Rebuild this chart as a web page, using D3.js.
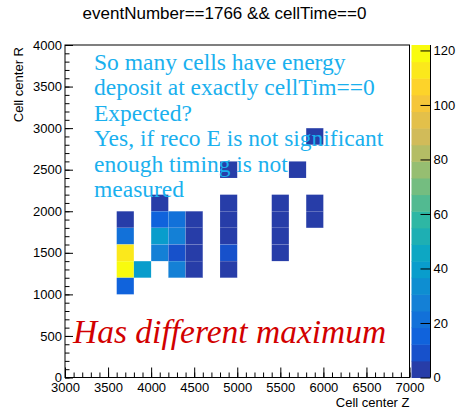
<!DOCTYPE html>
<html lang="en">
<head>
<meta charset="UTF-8">
<title>eventNumber==1766 && cellTime==0</title>
<style>
  body { margin: 0; padding: 0; background: #fff; }
  svg text { font-family: "Liberation Sans", Arial, Helvetica, sans-serif; }
  .axis text { font-size: 13px; fill: #000; }
  .axis line { stroke: #000; stroke-width: 1; }
  .axis path { display: none; }
  .note { font-family: "Liberation Serif", "Times New Roman", serif !important; }
</style>
</head>
<body>
<svg id="chart" width="459" height="412"></svg>

<script src="https://d3js.org/d3.v7.min.js"></script>
<script>
// cell centers (Z, R) and deposited energy, one entry per filled bin
var cellZ = [3700, 3700, 3700, 3700, 3700,
             3900,
             4100, 4100, 4100, 4100,
             4300, 4300, 4300, 4300,
             4500, 4500, 4500, 4500,
             4900, 4900, 4900, 4900, 4900, 4900,
             5500, 5500, 5500, 5500,
             5700,
             5900, 5900, 5900];
var cellR = [1900, 1700, 1500, 1300, 1100,
             1300,
             2100, 1900, 1700, 1500,
             1900, 1700, 1500, 1300,
             1900, 1700, 1500, 1300,
             2500, 2100, 1900, 1700, 1500, 1300,
             2100, 1900, 1700, 1500,
             2500,
             2900, 2100, 1900];
var cellE = [3, 22, 113, 122, 15,
             40,
             3, 15, 40, 30,
             22, 25, 10, 27,
             3, 2, 3, 2,
             3, 2, 3, 3, 9, 3,
             2, 3, 2, 3,
             2,
             3, 3, 2];

var xTicks = [3000, 3500, 4000, 4500, 5000, 5500, 6000, 6500, 7000];
var yTicks = [0, 500, 1000, 1500, 2000, 2500, 3000, 3500, 4000];
var zTicks = [0, 20, 40, 60, 80, 100, 120];

var noteLines = ["So many cells have energy",
                 "deposit at exactly cellTim==0",
                 "Expected?",
                 "Yes, if reco E is not significant",
                 "enough timing is not",
                 "measured"];

var binW = 200;
var nContours = 20;

// ROOT kBird palette
var birdStops = [0.0000, 0.1250, 0.2500, 0.3750, 0.5000, 0.6250, 0.7500, 0.8750, 1.0000];
var birdR = [0.2082, 0.0592, 0.0780, 0.0232, 0.1802, 0.5301, 0.8186, 0.9956, 0.9764];
var birdG = [0.1664, 0.3599, 0.5041, 0.6419, 0.7178, 0.7492, 0.7328, 0.7862, 0.9832];
var birdB = [0.5293, 0.8684, 0.8385, 0.7914, 0.6425, 0.4662, 0.3499, 0.1968, 0.0539];

var palette = d3.scaleLinear()
    .domain(birdStops)
    .range(birdStops.map(function (s, i) {
        return d3.rgb(birdR[i] * 255, birdG[i] * 255, birdB[i] * 255);
    }))
    .interpolate(d3.interpolateRgb);

function bandColor(i) {
    var idx = Math.floor((i + 0.99) * 255 / nContours);
    return palette(Math.min(idx, 254) / 254);
}

var zMax = d3.max(cellE);
var band = d3.scaleQuantize().domain([0, zMax]).range(d3.range(nContours));

var svg = d3.select("#chart");
var pLeft = 65, pRight = 409.5, pTop = 45, pBottom = 377.5;

var x = d3.scaleLinear().domain([3000, 7000]).range([pLeft, pRight]);
var y = d3.scaleLinear().domain([0, 4000]).range([pBottom, pTop]);

// title
svg.append("text")
    .attr("x", 224.5)
    .attr("y", 18.5)
    .attr("text-anchor", "middle")
    .style("font-size", "17px")
    .text("eventNumber==1766 && cellTime==0");

// cells
svg.append("g").selectAll("rect")
    .data(cellE)
    .enter().append("rect")
    .attr("x", function (d, i) { return x(cellZ[i] - binW / 2); })
    .attr("y", function (d, i) { return y(cellR[i] + binW / 2); })
    .attr("width", function (d, i) { return x(cellZ[i] + binW / 2) - x(cellZ[i] - binW / 2); })
    .attr("height", function (d, i) { return y(cellR[i] - binW / 2) - y(cellR[i] + binW / 2); })
    .attr("fill", function (d) { return bandColor(band(d)); })
    .attr("stroke", "#fff")
    .attr("stroke-opacity", 0.3)
    .attr("stroke-width", 0.3);

// frame
svg.append("rect")
    .attr("x", pLeft).attr("y", pTop)
    .attr("width", pRight - pLeft).attr("height", pBottom - pTop)
    .attr("fill", "none").attr("stroke", "#000").attr("stroke-width", 1);

// x axis
var minorX = d3.range(3000, 7001, 100);
svg.append("g").attr("class", "axis")
    .attr("transform", "translate(0," + pBottom + ")")
    .call(d3.axisBottom(x).tickValues(minorX).tickSize(-5).tickFormat(""));
svg.append("g").attr("class", "axis")
    .attr("transform", "translate(0," + pBottom + ")")
    .call(d3.axisBottom(x).tickValues(xTicks).tickSize(-10).tickPadding(5).tickFormat(d3.format("d")));

// y axis
var minorY = d3.range(0, 4001, 100);
svg.append("g").attr("class", "axis")
    .attr("transform", "translate(" + pLeft + ",0)")
    .call(d3.axisLeft(y).tickValues(minorY).tickSize(-4.5).tickFormat(""));
svg.append("g").attr("class", "axis")
    .attr("transform", "translate(" + pLeft + ",0)")
    .call(d3.axisLeft(y).tickValues(yTicks).tickSize(-8).tickPadding(3).tickFormat(d3.format("d")));

// axis titles
svg.append("text")
    .attr("x", pRight).attr("y", 406.5)
    .attr("text-anchor", "end")
    .style("font-size", "13px")
    .text("Cell center Z");
svg.append("text")
    .attr("transform", "translate(23," + (pTop + 2) + ") rotate(-90)")
    .attr("text-anchor", "end")
    .style("font-size", "13px")
    .text("Cell center R");

// colour bar
var cbLeft = 411.5, cbRight = 430.5;
var zs = d3.scaleLinear().domain([0, zMax]).range([pBottom, pTop]);
svg.append("g").selectAll("rect")
    .data(d3.range(nContours))
    .enter().append("rect")
    .attr("x", cbLeft)
    .attr("y", function (i) { return zs((i + 1) * zMax / nContours); })
    .attr("width", cbRight - cbLeft)
    .attr("height", function (i) { return zs(i * zMax / nContours) - zs((i + 1) * zMax / nContours) + 0.5; })
    .attr("fill", function (i) { return bandColor(i); });
svg.append("g").attr("class", "axis")
    .attr("transform", "translate(" + cbRight + ",0)")
    .call(d3.axisRight(zs).tickValues(zTicks).tickSize(-10).tickPadding(3));
svg.append("line")
    .attr("x1", cbRight).attr("x2", cbRight)
    .attr("y1", pTop).attr("y2", pBottom)
    .attr("stroke", "#000");

// annotations
svg.append("g").selectAll("text")
    .data(noteLines)
    .enter().append("text")
    .attr("class", "note")
    .attr("x", 94)
    .attr("y", function (d, i) { return 70 + i * 25.4; })
    .attr("fill", "#1ab0ee")
    .style("font-size", "23.5px")
    .text(function (d) { return d; });

svg.append("text")
    .attr("class", "note")
    .attr("x", 73)
    .attr("y", 343)
    .attr("fill", "#d20000")
    .style("font-size", "33.5px")
    .style("font-style", "italic")
    .text("Has different maximum");
</script>
</body>
</html>
